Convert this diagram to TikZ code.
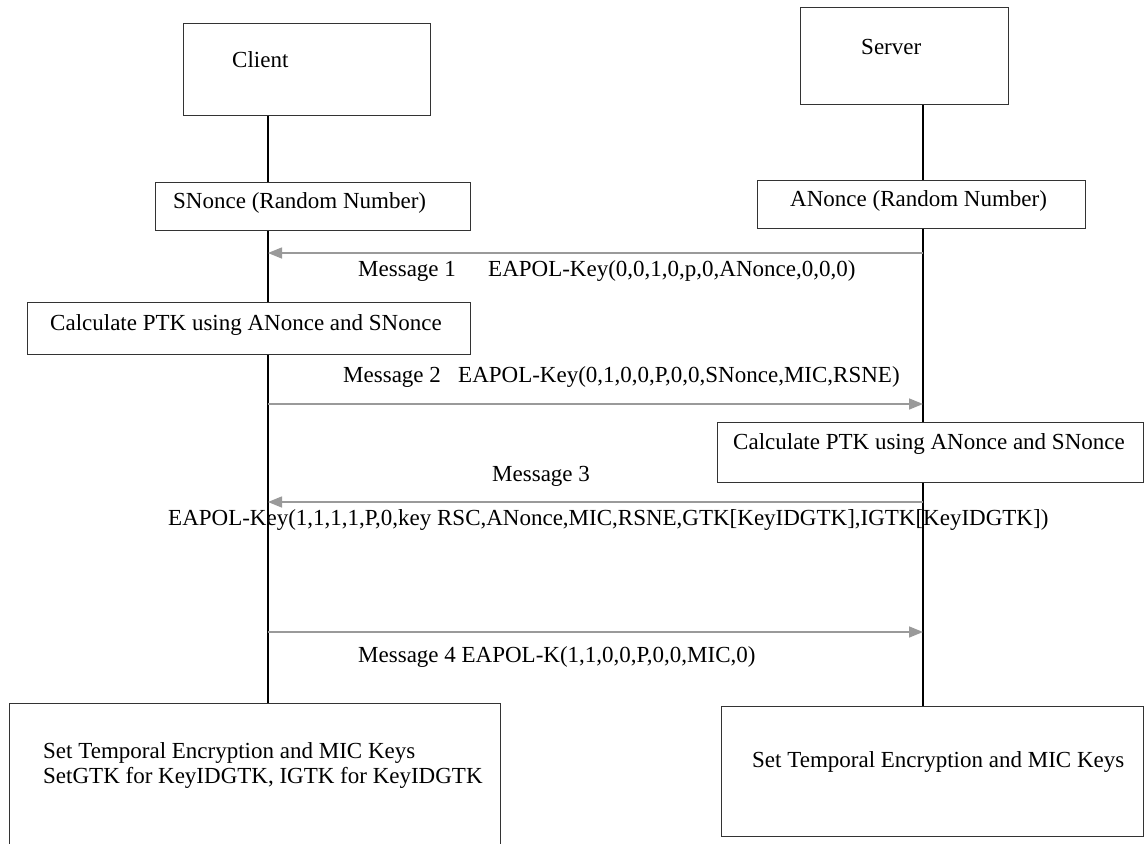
\documentclass[tikz,border=0pt]{standalone}
\usepackage{fontspec}
\setmainfont{Liberation Serif}
\usetikzlibrary{arrows.meta}
\definecolor{boxline}{HTML}{333333}
\definecolor{msggray}{HTML}{9A9A9A}
\begin{document}
\begin{tikzpicture}[x=1pt,y=-1pt,
  box/.style={draw=boxline,line width=1.4pt,rectangle,inner sep=0pt,anchor=north west},
  txt/.style={inner sep=0pt,anchor=west,text height=0.75em,text depth=0.25em,font=\fontsize{23}{25}\selectfont},
  life/.style={draw=black,line width=1.1pt},
  msg/.style={draw=msggray,line width=1.5pt,-{Triangle[length=14pt,width=11pt]}}]
\useasboundingbox[fill=white] (0,0) rectangle (1148,843);
% lifeline x positions
\coordinate (cL) at (268,0);
\coordinate (sL) at (923,0);
% boxes
\node[box,minimum width=247,minimum height=92] (client) at (183,23) {};
\node[box,minimum width=208,minimum height=97] (server) at (800,7) {};
\node[box,minimum width=315,minimum height=48] (snonce) at (155,182) {};
\node[box,minimum width=328,minimum height=48] (anonce) at (757,180) {};
\node[box,minimum width=443,minimum height=52] (calcC) at (27,302) {};
\node[box,minimum width=426,minimum height=60] (calcS) at (717,422) {};
\node[box,minimum width=491,minimum height=145] (finC) at (9,703) {};
\node[box,minimum width=422,minimum height=130] (finS) at (721,706) {};
% box texts
\node[txt] (tclient) at (232,65) {Client};
\node[txt] (tserver) at (861,52) {Server};
\node[txt] (tsnonce) at (173,206) {SNonce (Random Number)};
\node[txt] (tanonce) at (790,204) {ANonce (Random Number)};
\node[txt] (tcalcC) at (50,328) {Calculate PTK using ANonce and SNonce};
\node[txt] (tcalcS) at (733,447) {Calculate PTK using ANonce and SNonce};
\node[txt,align=left,text height=,text depth=] (tfinC) at (43,765) {Set Temporal Encryption and MIC Keys\\ SetGTK for KeyIDGTK, IGTK for KeyIDGTK};
\node[txt] (tfinS) at (752,765) {Set Temporal Encryption and MIC Keys};
% lifelines
\draw[life] (client.south -| cL) -- (snonce.north -| cL);
\draw[life] (snonce.south -| cL) -- (calcC.north -| cL);
\draw[life] (calcC.south -| cL) -- (finC.north -| cL);
\draw[life] (server.south -| sL) -- (anonce.north -| sL);
\draw[life] (anonce.south -| sL) -- (calcS.north -| sL);
\draw[life] (calcS.south -| sL) -- (finS.north -| sL);
% message end points
\coordinate (m1s) at (923,253); \coordinate (m1c) at (268,253);
\coordinate (m2c) at (268,404); \coordinate (m2s) at (923,404);
\coordinate (m3s) at (923,502); \coordinate (m3c) at (268,502);
\coordinate (m4c) at (268,632); \coordinate (m4s) at (923,632);
\draw[msg] (m1s) -- (m1c);
\draw[msg] (m2c) -- (m2s);
\draw[msg] (m3s) -- (m3c);
\draw[msg] (m4c) -- (m4s);
% message labels
\node[txt] (l1a) at (358,274) {Message 1};
\node[txt] (l1b) at (488,274) {EAPOL-Key(0,0,1,0,p,0,ANonce,0,0,0)};
\node[txt] (l2a) at (343,380) {Message 2};
\node[txt] (l2b) at (458,380) {EAPOL-Key(0,1,0,0,P,0,0,SNonce,MIC,RSNE)};
\node[txt] (l3a) at (492,479) {Message 3};
\node[txt] (l3b) at (168,523) {EAPOL-Key(1,1,1,1,P,0,key RSC,ANonce,MIC,RSNE,GTK[KeyIDGTK],IGTK[KeyIDGTK])};
\node[txt] (l4a) at (358,660) {Message 4 EAPOL-K(1,1,0,0,P,0,0,MIC,0)};
\end{tikzpicture}
\end{document}
